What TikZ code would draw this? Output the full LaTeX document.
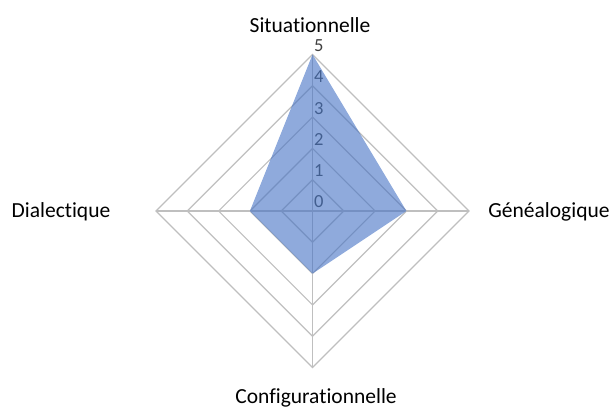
\documentclass[tikz,border=0pt]{standalone}
\usepackage{fontspec}
\setmainfont{Carlito}[RawFeature={-liga}]
\definecolor{gridgray}{HTML}{BFBFBF}
\definecolor{tickgray}{HTML}{404040}
\definecolor{areablue}{HTML}{4472C4}
\begin{document}
\begin{tikzpicture}[x=1pt,y=1pt,
  gridline/.style={draw=gridgray,line width=1.2pt},
  catlabel/.style={inner sep=0pt,anchor=base,text=black,font=\fontsize{21.5}{24}\selectfont},
  ticklabel/.style={inner sep=0pt,anchor=west,text=tickgray,font=\fontsize{18.5}{20}\selectfont},
  areafill/.style={fill=areablue,fill opacity=0.6,draw=none}]
\useasboundingbox (0,0) rectangle (613,408);
\begin{scope}[shift={(312.5,197)}]
  \foreach \k in {1,...,5}
    \draw[gridline] (90:\k*31.3) -- (0:\k*31.3) -- (270:\k*31.3) -- (180:\k*31.3) -- cycle;
  \coordinate (o) at (0,0);
  \coordinate (top) at (90:156.5);
  \coordinate (right) at (0:156.5);
  \coordinate (bottom) at (270:156.5);
  \coordinate (left) at (180:156.5);
  \draw[gridline] (top) -- (bottom);
  \draw[gridline] (left) -- (right);
  \foreach \k in {0,...,5}
    \node[ticklabel] (t\k) at (1.5,\k*31.3+9) {\k};
  \coordinate (ps) at (90:5*31.3);
  \coordinate (pg) at (0:3*31.3);
  \coordinate (pc) at (270:2*31.3);
  \coordinate (pd) at (180:2*31.3);
  \path[areafill] (ps) -- (pg) -- (pc) -- (pd) -- cycle;
\end{scope}
\node[catlabel] (sit) at (310,375) {Situationnelle};
\node[catlabel] (gen) at (549,191) {Généalogique};
\node[catlabel] (dia) at (61,191) {Dialectique};
\node[catlabel] (conf) at (316,5) {Configurationnelle};
\end{tikzpicture}
\end{document}
